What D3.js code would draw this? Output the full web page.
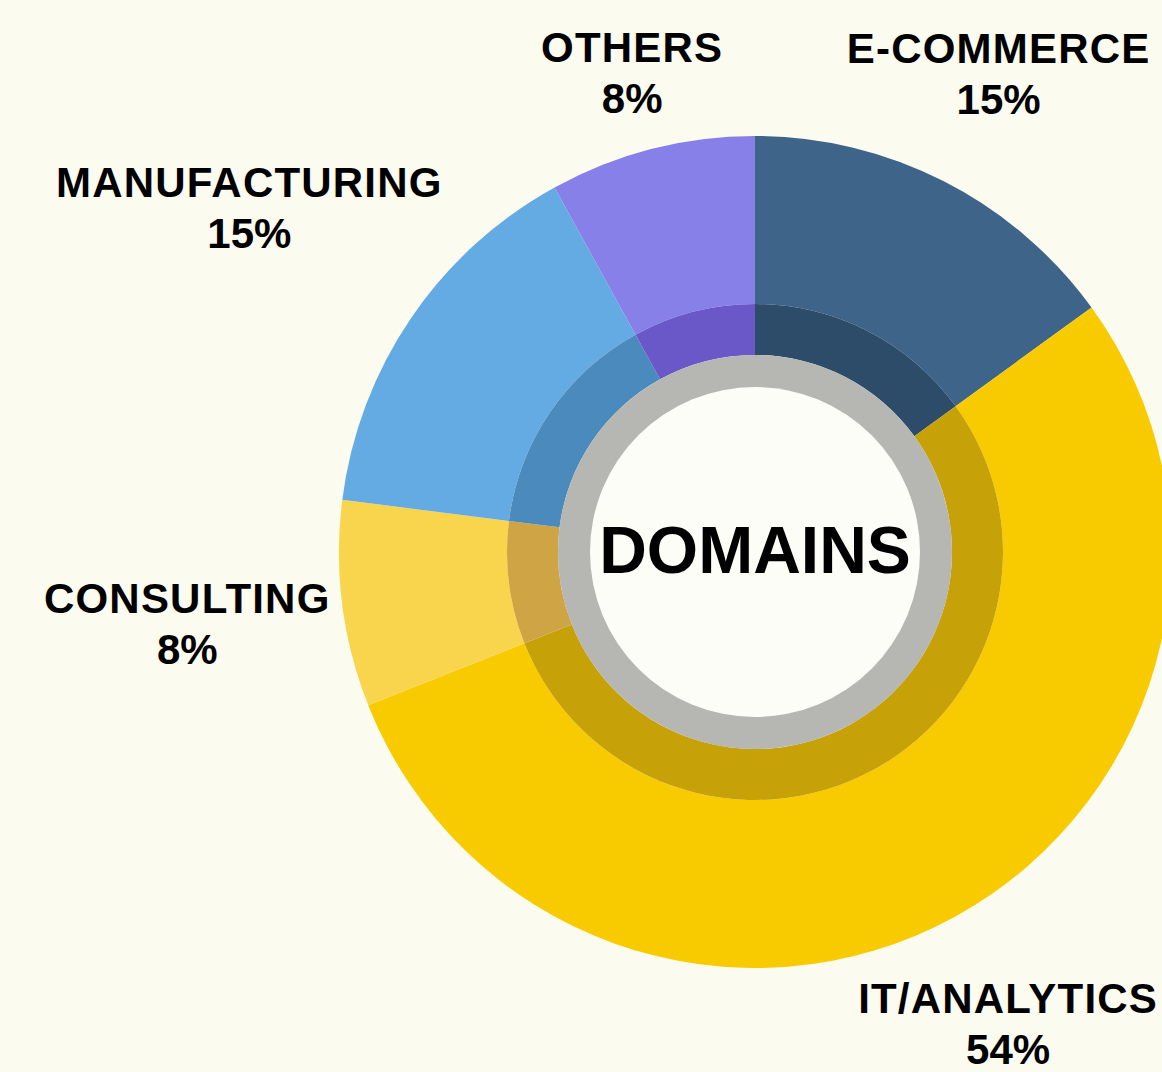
<!DOCTYPE html>
<html>
<head>
<meta charset="utf-8">
<script src="https://cdn.jsdelivr.net/npm/d3@7"></script>
<style>
  html, body { margin: 0; padding: 0; background: #fbfbf0; }
  svg { display: block; }
  text { font-family: "Liberation Sans", Arial, sans-serif; font-weight: bold; fill: #000; }
</style>
</head>
<body>
<svg id="chart"></svg>
<script>
// domain shares, clockwise from 12 o'clock
const categories = ['E-COMMERCE', 'IT/ANALYTICS', 'CONSULTING', 'MANUFACTURING', 'OTHERS'];
const shares = [15, 54, 8, 15, 8];
const centerTitle = 'DOMAINS';

const brightColors = ['#3e6489', '#f8cb00', '#f8d54c', '#65abe3', '#8780e8'];
const darkColors   = ['#2c4c69', '#c7a108', '#cfa444', '#4a8abc', '#6a58c9'];

const width = 1162, height = 1072;
const cx = 755, cy = 552;
const outerR = 416, bandR = 248, grayR = 197, holeR = 165;

const svg = d3.select('#chart')
    .attr('width', width)
    .attr('height', height);

svg.append('rect')
    .attr('width', width)
    .attr('height', height)
    .attr('fill', '#fbfbf0');

const data = categories.map((c, i) => ({ name: c, value: shares[i], i: i }));
const pie = d3.pie().sort(null).value(d => d.value);
const arcs = pie(data);

const g = svg.append('g').attr('transform', `translate(${cx},${cy})`);

const outerArc = d3.arc().innerRadius(bandR).outerRadius(outerR);
const innerArc = d3.arc().innerRadius(grayR).outerRadius(bandR);

g.selectAll('path.outer')
    .data(arcs)
    .join('path')
    .attr('class', 'outer')
    .attr('d', outerArc)
    .attr('fill', d => brightColors[d.data.i]);

g.selectAll('path.inner')
    .data(arcs)
    .join('path')
    .attr('class', 'inner')
    .attr('d', innerArc)
    .attr('fill', d => darkColors[d.data.i]);

// gray ring + white hole
g.append('circle').attr('r', grayR).attr('fill', '#b6b6b3');
g.append('circle').attr('r', holeR).attr('fill', '#fdfdf7');

g.append('text')
    .attr('text-anchor', 'middle')
    .attr('y', 21)
    .attr('font-size', '66px')
    .text(centerTitle);

// labels: push each two-line label box out along its slice's mid angle
const labelGap = outerR + 8;
const lineH = 51;

arcs.forEach(a => {
    const mid = (a.startAngle + a.endAngle) / 2;
    const ux = Math.sin(mid), uy = -Math.cos(mid);

    const lab = g.append('g');
    lab.append('text')
        .attr('text-anchor', 'middle')
        .attr('font-size', '42px')
        .attr('letter-spacing', '1.2px')
        .attr('y', 0)
        .text(a.data.name);
    lab.append('text')
        .attr('text-anchor', 'middle')
        .attr('font-size', '42px')
        .attr('y', lineH)
        .text(d3.format('d')(a.data.value) + '%');

    const bb = lab.node().getBBox();
    const hw = bb.width / 2, hh = bb.height / 2;
    const d = labelGap + hw * Math.abs(ux) + hh * Math.abs(uy);
    let bx = ux * d, by = uy * d;
    // keep the box inside the picture
    bx = Math.min(bx, width - cx - hw - 4);
    bx = Math.max(bx, -cx + hw + 4);
    lab.attr('transform', `translate(${bx - (bb.x + hw)},${by - (bb.y + hh)})`);
});
</script>
</body>
</html>
